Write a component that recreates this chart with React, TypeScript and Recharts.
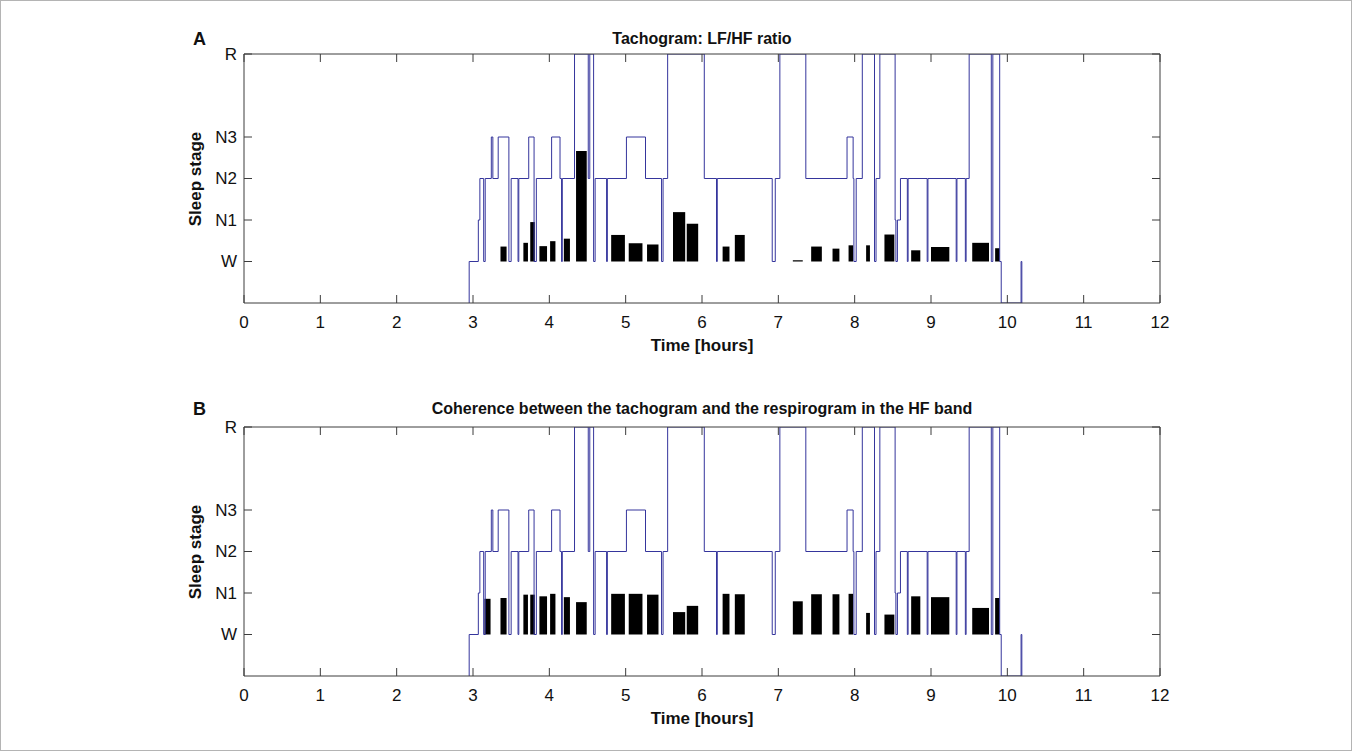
import React from "react";
import { ComposedChart, Line, XAxis, YAxis, ReferenceArea } from "recharts";

// x axis: hours of the night
const hours = [0, 1, 2, 3, 4, 5, 6, 7, 8, 9, 10, 11, 12];

// y axis: sleep stages (R sits higher, -1 = not recorded)
const stageTicks = [0, 1, 2, 3, 5];
const stageLabels = ["W", "N1", "N2", "N3", "R"];

// hypnogram transitions: time [h] and stage entered at that time
const hypnoTimes = [
  2.95, 2.95, 3.07, 3.09, 3.14, 3.16, 3.24, 3.26, 3.33, 3.47, 3.5, 3.59, 3.6, 3.73, 3.8, 3.83,
  4.03, 4.14, 4.16, 4.17, 4.33, 4.51, 4.53, 4.58, 4.6, 4.75, 4.76, 5.01, 5.26, 5.47, 5.49,
  5.55, 6.03, 6.19, 6.2, 6.92, 6.96, 7.02, 7.36, 7.9, 7.98, 7.99, 8.02, 8.1, 8.26, 8.28,
  8.33, 8.53, 8.54, 8.56, 8.6, 8.69, 8.7, 8.95, 8.96, 9.33, 9.34, 9.45, 9.46, 9.5, 9.79,
  9.81, 9.9, 9.92, 10.18, 10.19,
];
const hypnoStages = [
  -1, 0, 1, 2, 0, 2, 3, 2, 3, 0, 2, 0, 2, 3, 0, 2,
  3, 2, 0, 2, 5, 2, 5, 0, 2, 0, 2, 3, 2, 0, 2,
  5, 2, 0, 2, 0, 2, 5, 2, 3, 2, 0, 2, 5, 0, 2,
  5, 1, 0, 1, 2, 0, 2, 0, 2, 0, 2, 0, 2, 5, 0,
  5, 0, -1, 0, -1,
];

// analysis windows [h]
const epochStart = [
  3.15, 3.36, 3.66, 3.75, 3.87, 4.01, 4.19, 4.35, 4.81, 5.04, 5.28, 5.62, 5.8, 6.27, 6.43,
  7.19, 7.43, 7.71, 7.92, 8.15, 8.39, 8.74, 9.0, 9.54, 9.84,
];
const epochEnd = [
  3.23, 3.44, 3.72, 3.81, 3.97, 4.08, 4.27, 4.49, 4.99, 5.22, 5.43, 5.78, 5.95, 6.36, 6.56,
  7.32, 7.57, 7.8, 7.98, 8.2, 8.52, 8.86, 9.24, 9.76, 9.9,
];
// bar heights (in stage units above W)
const lfhfRatio = [
  0, 0.36, 0.45, 0.95, 0.37, 0.49, 0.55, 2.66, 0.64, 0.44, 0.41, 1.19, 0.91, 0.36, 0.64,
  0.03, 0.36, 0.31, 0.39, 0.39, 0.65, 0.27, 0.35, 0.45, 0.32,
];
const coherenceHF = [
  0.86, 0.88, 0.96, 0.96, 0.92, 0.98, 0.9, 0.78, 0.98, 0.98, 0.96, 0.54, 0.69, 0.98, 0.97,
  0.8, 0.97, 0.97, 0.98, 0.52, 0.48, 0.92, 0.9, 0.64, 0.88,
];

const hypnogram = hypnoTimes.map((t, i) => ({ t, stage: hypnoStages[i] }));

const FONT = "'Liberation Sans', Arial, Helvetica, sans-serif";
const AXIS = "#3c3c3c";
const LINE = "#35359c";
const TICK = 8;

const BottomTick = ({ x, y, payload }: any) => (
  <g>
    <line x1={x} y1={y} x2={x} y2={y - TICK} stroke={AXIS} />
    <text x={x} y={y + 19} textAnchor="middle" dominantBaseline="central" fill="#111" style={{ fontFamily: FONT, fontSize: 17 }}>
      {payload.value}
    </text>
  </g>
);

const TopTick = ({ x, y }: any) => <line x1={x} y1={y} x2={x} y2={y + TICK} stroke={AXIS} />;

const LeftTick = ({ x, y, payload }: any) => (
  <g>
    <line x1={x} y1={y} x2={x + TICK} y2={y} stroke={AXIS} />
    <text x={x - 7} y={y} textAnchor="end" dominantBaseline="central" fill="#111" style={{ fontFamily: FONT, fontSize: 17 }}>
      {stageLabels[stageTicks.indexOf(payload.value)]}
    </text>
  </g>
);

const RightTick = ({ x, y }: any) => <line x1={x} y1={y} x2={x - TICK} y2={y} stroke={AXIS} />;

function Panel({ letter, title, values, top, titleY }: { letter: string; title: string; values: number[]; top: number; titleY: number }) {
  return (
    <div style={{ position: "absolute", left: 0, top }}>
      <ComposedChart width={1353} height={380} data={hypnogram} margin={{ top: 53, right: 192, bottom: 76, left: 243 }}>
        <XAxis
          dataKey="t" type="number" domain={[0, 12]} ticks={hours} interval={0} allowDataOverflow
          height={1} tickSize={0} tickMargin={0} tickLine={false} axisLine={{ stroke: AXIS }}
          tick={(p: any) => <BottomTick {...p} />}
        />
        <XAxis
          xAxisId="top" orientation="top" dataKey="t" type="number" domain={[0, 12]} ticks={hours} interval={0} allowDataOverflow
          height={1} tickSize={0} tickMargin={0} tickLine={false} axisLine={{ stroke: AXIS }}
          tick={(p: any) => <TopTick {...p} />}
        />
        <YAxis
          type="number" domain={[-1, 5]} ticks={stageTicks} interval={0} allowDataOverflow
          width={1} tickSize={0} tickMargin={0} tickLine={false} axisLine={{ stroke: AXIS }}
          tick={(p: any) => <LeftTick {...p} />}
        />
        <YAxis
          yAxisId="right" orientation="right" dataKey="stage" type="number" domain={[-1, 5]} ticks={stageTicks} interval={0} allowDataOverflow
          width={1} tickSize={0} tickMargin={0} tickLine={false} axisLine={{ stroke: AXIS }}
          tick={(p: any) => <RightTick {...p} />}
        />
        {epochStart.map((s, i) =>
          values[i] > 0 ? (
            <ReferenceArea key={i} x1={s} x2={epochEnd[i]} y1={0} y2={values[i]} fill="#000" fillOpacity={1} stroke="none" ifOverflow="visible" />
          ) : null
        )}
        <Line dataKey="stage" type="stepAfter" stroke={LINE} strokeWidth={1} dot={false} isAnimationActive={false} />
        <text x={193} y={titleY + 1} fill="#111" dominantBaseline="central" style={{ fontFamily: FONT, fontSize: 18, fontWeight: 700 }}>
          {letter}
        </text>
        <text x={702} y={titleY} textAnchor="middle" dominantBaseline="central" fill="#111" style={{ fontFamily: FONT, fontSize: 16, fontWeight: 700 }}>
          {title}
        </text>
        <text x={195} y={179} transform="rotate(-90 195 179)" textAnchor="middle" dominantBaseline="central" fill="#111" style={{ fontFamily: FONT, fontSize: 17, fontWeight: 700 }}>
          Sleep stage
        </text>
        <text x={702} y={345} textAnchor="middle" dominantBaseline="central" fill="#111" style={{ fontFamily: FONT, fontSize: 17, fontWeight: 700 }}>
          Time [hours]
        </text>
      </ComposedChart>
    </div>
  );
}

export default function App() {
  return (
    <div style={{ position: "absolute", left: 0, top: 0, width: 1353, height: 751, overflow: "hidden", background: "#fff" }}>
      <div style={{ position: "absolute", left: 0, top: 0, width: 1350, height: 749, border: "1px solid #b4b4b4" }} />
      <Panel letter="A" title="Tachogram: LF/HF ratio" values={lfhfRatio} top={0} titleY={38} />
      <Panel letter="B" title="Coherence between the tachogram and the respirogram in the HF band" values={coherenceHF} top={373} titleY={35} />
    </div>
  );
}
